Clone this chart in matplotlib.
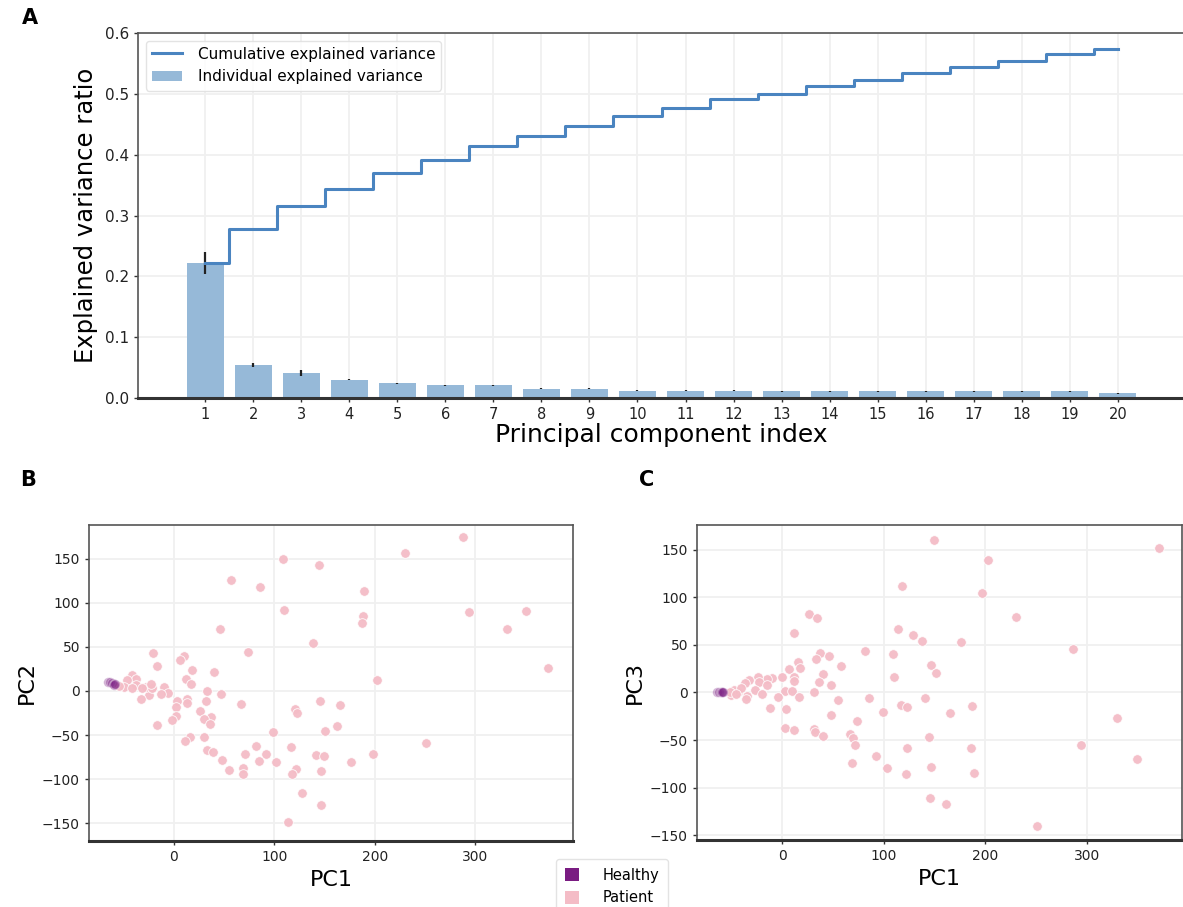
import numpy as np
import matplotlib
matplotlib.use('Agg')
import matplotlib.pyplot as plt
from matplotlib.patches import Patch
from matplotlib.lines import Line2D

# Panel A: explained variance per principal component
components = np.arange(1, 21)
individual = [0.222, 0.054, 0.041, 0.030, 0.024, 0.021, 0.021, 0.015, 0.015, 0.012,
              0.012, 0.012, 0.011, 0.011, 0.011, 0.011, 0.011, 0.011, 0.011, 0.008]
individual_err = [0.018, 0.003, 0.005, 0.001, 0.001, 0.001, 0.001, 0.001, 0.001, 0.001,
                  0.0005, 0.0005, 0.0005, 0.0005, 0.0005, 0.0005, 0.0005, 0.0005, 0.001, 0.001]
cumulative = [0.222, 0.277, 0.316, 0.344, 0.370, 0.391, 0.414, 0.430, 0.447, 0.463,
              0.477, 0.491, 0.500, 0.513, 0.523, 0.535, 0.544, 0.554, 0.565, 0.574]

# Panel B: PC1 vs PC2
b_patient_pc1 = [288, 230, 109, 145, 57, 86, 189, 110, 294, 350, 188, 187, 331, 46, 139, 74,
                 -20, 10, 6, -16, 372, 18, 40, 202, 12, 17, 33, 47, -9, -5, -12, -24, -32,
                 -21, 3, 13, 13, 32, 2, 67, 146, 165, 121, 123, 26, 37, 30, 36, 2, -2, -16,
                 162, 151, 99, 30, 16, 11, 82, 117, 251, 33, 39, 71, 92, 142, 150, 198, 48,
                 85, 102, 176, 122, 69, 69, 55, 147, 118, 128, 147, 114,
                 -41, -37, -46, -37, -49, -41, -27, -21, -31, -54, -22]
b_patient_pc2 = [174, 156, 149, 143, 126, 118, 113, 92, 90, 91, 85, 77, 70, 70, 54, 44,
                 43, 40, 35, 28, 26, 24, 21, 12, 14, 8, 0, -4, 5, -2, -4, -5, -9,
                 4, -11, -9, -14, -11, -18, -15, -11, -16, -20, -25, -23, -29, -32, -37, -28, -33, -39,
                 -40, -45, -46, -52, -52, -57, -62, -64, -59, -67, -69, -72, -71, -73, -74, -72, -78,
                 -79, -80, -80, -88, -87, -94, -90, -91, -94, -116, -129, -149,
                 18, 14, 12, 7, 5, 3, 5, 3, 3, 6, 8]
b_healthy_pc1 = [-65, -63, -61, -59, -59, -58]
b_healthy_pc2 = [10, 10, 9, 8, 7, 8]

# Panel C: PC1 vs PC3
c_patient_pc1 = [150, 371, 203, 118, 197, 230, 26, 34, 12, 114, 129, 138, 176, 287, 82, 109,
                 37, 46, 33, 16, 58, 147, 18, 7, 152, 40, 0, 12, 110, -10, -15, -24, -23,
                 -33, -37, 36, 12, 48, -15, -27, 3, 10, 31, -20, -4, 17, -35, -36, 55, 86,
                 141, 117, 123, 187, -12, 4, 99, 165, 48, 74, 330, 3, 12, 31, 32, 40, 67,
                 70, 72, 145, 123, 186, 294, 92, 69, 103, 147, 350, 122, 189, 146, 161, 251,
                 -50, -44, -48, -41, -51, -46]
c_patient_pc3 = [160, 152, 139, 112, 105, 79, 83, 78, 62, 67, 60, 54, 53, 46, 44, 40,
                 41, 38, 35, 32, 28, 29, 26, 25, 21, 19, 16, 16, 16, 15, 14, 16, 11,
                 13, 10, 11, 12, 8, 8, 3, 2, 2, 0, -2, -5, -5, -4, -7, -8, -6,
                 -6, -13, -15, -14, -16, -17, -20, -22, -24, -30, -27, -37, -39, -38, -41, -46, -44,
                 -48, -55, -47, -58, -58, -55, -67, -74, -79, -78, -70, -86, -85, -111, -117, -140,
                 -3, 1, 3, 5, 1, -2]
c_healthy_pc1 = [-64, -62, -60, -59, -59, -58]
c_healthy_pc3 = [0, 0, 0, 1, 0, 0]

W, H = 1183, 907
fig = plt.figure(figsize=(W / 100, H / 100), dpi=100)

bar_color = '#96b9d8'
line_color = '#4a84c0'
patient_color = '#f4bcc6'
healthy_color = '#7a1c82'
grid_color = '#f0f0f0'


def px_axes(left, top, right, bottom):
    return fig.add_axes([left / W, 1 - bottom / H, (right - left) / W, (bottom - top) / H])


def style_axes(ax, tick_size):
    ax.set_axisbelow(True)
    ax.grid(True, color=grid_color, linewidth=1.3)
    for side in ['top', 'right', 'left']:
        ax.spines[side].set_color('#555555')
        ax.spines[side].set_linewidth(1.2)
    ax.spines['bottom'].set_color('#333333')
    ax.spines['bottom'].set_linewidth(2.2)
    ax.tick_params(labelsize=tick_size, length=3, width=1, color='#333333', labelcolor='#222222')


# ---- A ----
ax1 = px_axes(138, 33, 1185, 398)
style_axes(ax1, 10.5)
ax1.bar(components, individual, width=0.78, color=bar_color, yerr=individual_err,
        error_kw=dict(ecolor='#222222', elinewidth=1.6, capsize=0),
        label='Individual explained variance')
ax1.step(components, cumulative, where='mid', color=line_color, linewidth=2.2,
         label='Cumulative explained variance')
ax1.set_xticks(components)
ax1.set_xlim(-0.4, 21.4)
ax1.set_ylim(0, 0.6)
ax1.set_yticks([0, 0.1, 0.2, 0.3, 0.4, 0.5, 0.6])
ax1.set_yticklabels(['0.0', '0.1', '0.2', '0.3', '0.4', '0.5', '0.6'], fontsize=11)
ax1.set_xlabel('Principal component index', fontsize=18, labelpad=1)
ax1.set_ylabel('Explained variance ratio', fontsize=17.5, labelpad=5)
handles = [Line2D([], [], color=line_color, linewidth=2.2),
           Patch(facecolor=bar_color)]
ax1.legend(handles, ['Cumulative explained variance', 'Individual explained variance'],
           loc='upper left', fontsize=11, frameon=True, edgecolor='#dddddd',
           borderaxespad=0.5, handletextpad=1.0)

# ---- B ----
ax2 = px_axes(89, 525, 573, 841)
style_axes(ax2, 10)
ax2.scatter(b_patient_pc1, b_patient_pc2, s=48, color=patient_color, edgecolor='white',
            linewidth=0.6, alpha=0.95)
ax2.scatter(b_healthy_pc1, b_healthy_pc2, s=48, color=healthy_color, edgecolor='white',
            linewidth=0.6, alpha=0.35)
ax2.set_xlim(-84, 397)
ax2.set_ylim(-170, 188)
ax2.set_xticks([0, 100, 200, 300])
ax2.set_yticks([-150, -100, -50, 0, 50, 100, 150])
ax2.set_xlabel('PC1', fontsize=16)
ax2.set_ylabel('PC2', fontsize=16)

# ---- C ----
ax3 = px_axes(697, 525, 1182, 840)
style_axes(ax3, 10)
ax3.scatter(c_patient_pc1, c_patient_pc3, s=48, color=patient_color, edgecolor='white',
            linewidth=0.6, alpha=0.95)
ax3.scatter(c_healthy_pc1, c_healthy_pc3, s=48, color=healthy_color, edgecolor='white',
            linewidth=0.6, alpha=0.35)
ax3.set_xlim(-84, 394)
ax3.set_ylim(-155, 176)
ax3.set_xticks([0, 100, 200, 300])
ax3.set_yticks([-150, -100, -50, 0, 50, 100, 150])
ax3.set_xlabel('PC1', fontsize=16)
ax3.set_ylabel('PC3', fontsize=16)

# panel letters
fig.text(22 / W, 1 - 18 / H, 'A', fontsize=15, fontweight='bold', va='center', ha='left')
fig.text(20 / W, 1 - 480 / H, 'B', fontsize=15, fontweight='bold', va='center', ha='left')
fig.text(639 / W, 1 - 480 / H, 'C', fontsize=15, fontweight='bold', va='center', ha='left')

# shared legend
leg_handles = [Patch(facecolor=healthy_color), Patch(facecolor=patient_color)]
fig.legend(leg_handles, ['Healthy', 'Patient'], loc='upper left',
           bbox_to_anchor=(556 / W, 1 - 859 / H), fontsize=10.5, frameon=True,
           edgecolor='#dddddd', handlelength=1.0, handleheight=1.0, borderaxespad=0,
           handletextpad=1.6, borderpad=0.6)

fig.savefig('out.png', dpi=100)
